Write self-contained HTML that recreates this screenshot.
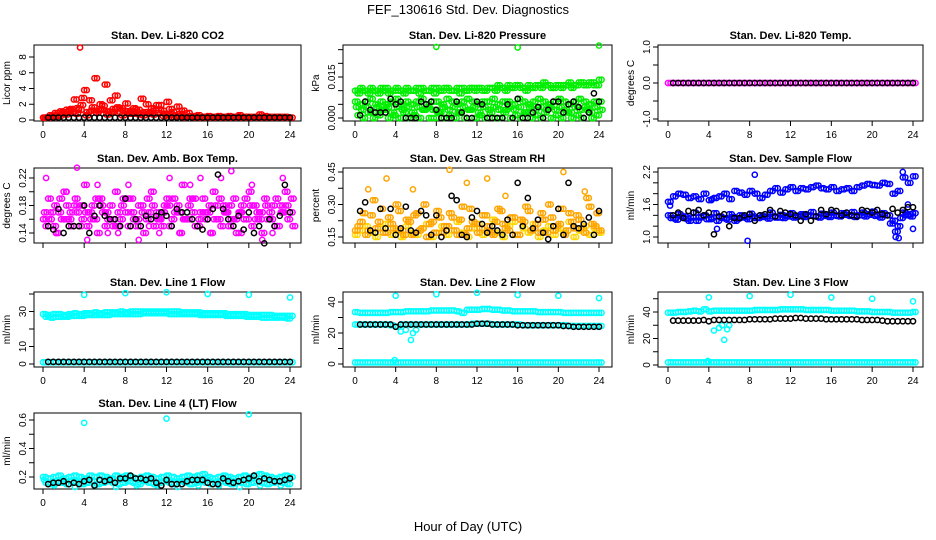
<!DOCTYPE html>
<html><head><meta charset="utf-8"><title>FEF_130616 Std. Dev. Diagnostics</title>
<style>
html,body{margin:0;padding:0;background:#fff;}
svg{display:block;font-family:"Liberation Sans",sans-serif;}
</style></head>
<body>
<svg id="chart" width="936" height="540" viewBox="0 0 936 540" xmlns="http://www.w3.org/2000/svg">
<rect x="0" y="0" width="936" height="540" fill="#fff"/>
<text x="468" y="14" text-anchor="middle" font-size="13">FEF_130616  Std. Dev. Diagnostics</text>
<text x="468" y="531" text-anchor="middle" font-size="13">Hour of Day (UTC)</text>
<g id="panels"></g>
</svg>
<script>
// ---- data ----
const xTicks = [0,4,8,12,16,20,24];
const panelTitles = ["Stan. Dev. Li-820 CO2","Stan. Dev. Li-820 Pressure","Stan. Dev. Li-820 Temp.","Stan. Dev. Amb. Box Temp.","Stan. Dev. Gas Stream RH","Stan. Dev. Sample Flow","Stan. Dev. Line 1 Flow","Stan. Dev. Line 2 Flow","Stan. Dev. Line 3 Flow","Stan. Dev. Line 4 (LT) Flow"];
const yTitles = ["Licor ppm","kPa","degrees C","degrees C","percent","ml/min","ml/min","ml/min","ml/min","ml/min"];
const yTickVals = [[0,2,4,6,8],[0,0.005,0.010,0.015,0.020,0.025],[-1,-0.5,0,0.5,1],[0.14,0.16,0.18,0.20,0.22],[0.15,0.225,0.30,0.375,0.45],[1.0,1.2,1.4,1.6,1.8,2.0,2.2],[0,10,20,30,40],[0,10,20,30,40],[0,10,20,30,40,50],[0.2,0.3,0.4,0.5,0.6]];
const yTickLabels = [["0","2","4","6","8"],["0.000","","","0.015","",""],["-1.0","","0.0","","1.0"],["0.14","","0.18","","0.22"],["0.15","","0.30","","0.45"],["1.0","","","1.6","","","2.2"],["0","10","","30",""],["0","","20","","40"],["0","","20","","40",""],["0.2","","0.4","","0.6"]];

// CO2
const co2A = [0.3,0.3,0.4,0.5,1.0,1.2,2.6,1.3,3.8,2.5,5.3,2.0,4.5,2.5,3.1,1.5,2.1,1.2,1.0,2.7,2.0,1.5,1.9,1.2,2.3,1.0,1.7,1.2,0.9,0.5,0.6,0.4,0.5,0.4,0.5,0.4,0.5,0.4,0.6,0.4,0.4,0.4,0.7,0.5,0.4,0.4,0.4,0.4,0.3];
const co2B = [0.3,0.4,0.6,0.8,1.3,0.9,1.5,2.8,1.0,1.6,1.2,1.8,1.1,1.4,0.9,1.2,0.8,1.5,0.7,1.0,0.8,1.2,1.9,0.8,1.4,0.6,0.8,0.4,0.5,0.4,0.3,0.4,0.3,0.4,0.3,0.4,0.3,0.4,0.3,0.4,0.3,0.4,0.3,0.4,0.3,0.4,0.3,0.3];
const co2C = [0.3,0.6,0.9,1.1,0.7,1.4,0.8,1.9,0.6,1.2,0.9,1.3,0.7,1.0,1.6,0.6,1.1,0.8,1.3,0.6,1.0,0.7,0.9,0.5,0.6,0.4,0.5,0.3,0.4,0.3,0.3,0.3,0.3,0.3,0.3,0.3,0.3,0.3,0.3,0.3,0.3,0.3,0.3,0.3,0.3,0.3,0.3,0.3];
const co2OutT = [3.6]; const co2OutV = [9.2];
const co2Black = [0.3,0.3,0.3,0.3,0.3,0.3,0.3,0.3,0.3,0.3,0.3,0.3,0.3,0.3,0.3,0.3,0.3,0.3,0.3,0.3,0.3,0.3,0.3,0.3,0.3,0.3,0.3,0.3,0.3,0.3,0.3,0.3,0.3,0.3,0.3,0.3,0.3,0.3,0.3,0.3,0.3,0.3,0.3,0.3,0.3,0.3,0.3,0.3];
// Pressure
const prG1 = [0.010,0.011,0.010,0.011,0.010,0.011,0.011,0.010,0.011,0.010,0.011,0.010,0.011,0.011,0.010,0.011,0.011,0.010,0.011,0.010,0.011,0.011,0.010,0.011,0.011,0.010,0.011,0.011,0.012,0.011,0.012,0.011,0.012,0.011,0.012,0.011,0.012,0.013,0.012,0.011,0.012,0.012,0.013,0.012,0.013,0.012,0.013,0.012,0.014];
const prG2 = [0.009,0.010,0.009,0.010,0.009,0.010,0.009,0.010,0.010,0.009,0.010,0.010,0.009,0.010,0.010,0.009,0.010,0.011,0.010,0.010,0.009,0.010,0.011,0.010,0.011,0.010,0.011,0.010,0.011,0.010,0.011,0.012,0.011,0.010,0.011,0.012,0.011,0.012,0.011,0.012,0.011,0.012,0.011,0.012,0.013,0.012,0.013,0.012];
const prG3 = [0.006,0.005,0.006,0.007,0.005,0.006,0.005,0.006,0.007,0.005,0.006,0.005,0.006,0.007,0.005,0.006,0.006,0.005,0.007,0.006,0.005,0.006,0.007,0.006,0.005,0.006,0.006,0.007,0.005,0.006,0.006,0.005,0.007,0.006,0.005,0.006,0.007,0.006,0.005,0.006,0.007,0.006,0.005,0.006,0.007,0.006,0.005,0.006,0.006];
const prG4 = [0.001,0.000,0.002,0.000,0.001,0.003,0.000,0.001,0.000,0.002,0.000,0.001,0.000,0.003,0.000,0.000,0.002,0.000,0.001,0.000,0.002,0.000,0.003,0.000,0.001,0.000,0.002,0.000,0.000,0.003,0.000,0.001,0.000,0.002,0.000,0.001,0.000,0.003,0.000,0.001,0.000,0.002,0.000,0.001,0.000,0.003,0.000,0.001];
const prG5 = [0.004,0.003,0.004,0.002,0.004,0.003,0.004,0.002,0.004,0.003,0.004,0.002,0.004,0.003,0.004,0.003,0.002,0.004,0.003,0.004,0.002,0.004,0.003,0.004,0.002,0.004,0.003,0.004,0.003,0.002,0.004,0.003,0.004,0.002,0.004,0.003,0.004,0.002,0.004,0.003,0.004,0.003,0.002,0.004,0.003,0.004,0.002,0.004,0.003];
const prOutT = [8,16,24]; const prOutV = [0.026,0.0258,0.0265];
const prBlack = [0.001,0.006,0.003,0.002,0.002,0.002,0.007,0.005,0.006,0.000,0.000,0.000,0.006,0.005,0.006,0.003,0.000,0.000,0.000,0.006,0.002,0.000,0.000,0.006,0.005,0.000,0.000,0.000,0.000,0.005,0.000,0.007,0.000,0.000,0.002,0.004,0.000,0.003,0.006,0.006,0.002,0.005,0.006,0.004,0.000,0.002,0.009,0.006];
// Li-820 Temp
const tmpM = [0,0,0,0,0,0,0,0,0,0,0,0,0,0,0,0,0,0,0,0,0,0,0,0,0,0,0,0,0,0,0,0,0,0,0,0,0,0,0,0,0,0,0,0,0,0,0,0,0];
const tmpBlack = [0,0,0,0,0,0,0,0,0,0,0,0,0,0,0,0,0,0,0,0,0,0,0,0,0,0,0,0,0,0,0,0,0,0,0,0,0,0,0,0,0,0,0,0,0,0,0,0];
// Amb box temp
const ambM1 = [0.16,0.19,0.15,0.17,0.20,0.16,0.18,0.15,0.21,0.17,0.16,0.19,0.15,0.18,0.20,0.16,0.17,0.19,0.15,0.18,0.16,0.20,0.17,0.15,0.19,0.16,0.18,0.21,0.16,0.17,0.15,0.19,0.17,0.20,0.16,0.18,0.15,0.19,0.17,0.16,0.20,0.18,0.16,0.19,0.17,0.15,0.18,0.20,0.17];
const ambM2 = [0.15,0.17,0.14,0.16,0.18,0.15,0.17,0.16,0.15,0.18,0.14,0.17,0.16,0.15,0.17,0.19,0.15,0.16,0.18,0.14,0.17,0.15,0.16,0.18,0.15,0.17,0.14,0.16,0.19,0.15,0.17,0.16,0.14,0.18,0.15,0.17,0.16,0.14,0.18,0.16,0.15,0.17,0.14,0.16,0.18,0.15,0.17,0.16,0.15];
const ambM3 = [0.17,0.16,0.18,0.19,0.16,0.17,0.19,0.18,0.17,0.16,0.19,0.18,0.17,0.16,0.15,0.18,0.19,0.17,0.16,0.17,0.19,0.18,0.16,0.17,0.18,0.19,0.17,0.16,0.18,0.19,0.16,0.17,0.18,0.16,0.19,0.17,0.18,0.16,0.17,0.19,0.18,0.16,0.17,0.18,0.16,0.19,0.17,0.18,0.19];
const ambM4 = [0.22,0.14,0.20,0.235,0.13,0.21,0.14,0.14,0.21,0.13,0.15,0.14,0.22,0.14,0.21,0.22,0.14,0.22,0.23,0.14,0.21,0.13,0.14,0.22];
const ambBlack = [0.15,0.145,0.175,0.14,0.15,0.15,0.15,0.18,0.14,0.165,0.18,0.165,0.16,0.16,0.15,0.19,0.15,0.16,0.15,0.165,0.16,0.165,0.17,0.165,0.15,0.175,0.17,0.17,0.16,0.15,0.145,0.16,0.175,0.225,0.175,0.16,0.15,0.165,0.145,0.17,0.14,0.15,0.125,0.16,0.15,0.165,0.21,0.17];
// RH
const rhO1 = [0.18,0.22,0.16,0.25,0.19,0.28,0.17,0.21,0.30,0.18,0.23,0.16,0.26,0.19,0.15,0.22,0.27,0.17,0.20,0.24,0.16,0.29,0.19,0.22,0.17,0.25,0.20,0.16,0.28,0.21,0.18,0.24,0.16,0.22,0.27,0.19,0.17,0.23,0.30,0.18,0.21,0.16,0.26,0.19,0.23,0.17,0.29,0.20,0.18];
const rhO2 = [0.16,0.18,0.20,0.17,0.15,0.19,0.21,0.16,0.18,0.15,0.20,0.17,0.16,0.19,0.21,0.15,0.17,0.20,0.16,0.18,0.22,0.17,0.15,0.19,0.21,0.16,0.18,0.23,0.17,0.15,0.20,0.22,0.16,0.19,0.17,0.21,0.15,0.18,0.20,0.16,0.19,0.17,0.22,0.15,0.18,0.20,0.16,0.19,0.17];
const rhO3 = [0.20,0.26,0.18,0.32,0.22,0.17,0.24,0.19,0.27,0.16,0.22,0.25,0.18,0.30,0.21,0.17,0.24,0.20,0.26,0.18,0.23,0.16,0.28,0.21,0.19,0.25,0.17,0.22,0.27,0.19,0.24,0.16,0.23,0.29,0.18,0.21,0.26,0.17,0.24,0.20,0.28,0.18,0.22,0.25,0.19,0.33,0.21,0.26];
const rhOutT = [1.3,3.1,5.7,9.3,11,13,14.8,20.5,22.6]; const rhOutV = [0.37,0.42,0.37,0.46,0.40,0.42,0.34,0.45,0.36];
const rhBlack = [0.27,0.31,0.18,0.17,0.28,0.19,0.28,0.16,0.19,0.29,0.18,0.17,0.27,0.25,0.16,0.25,0.15,0.18,0.34,0.32,0.16,0.15,0.24,0.27,0.21,0.17,0.20,0.18,0.16,0.23,0.16,0.40,0.20,0.33,0.19,0.23,0.17,0.14,0.20,0.28,0.16,0.40,0.20,0.19,0.21,0.24,0.16,0.27];
// Sample flow
const sfB1 = [1.40,1.35,1.42,1.38,1.30,1.45,1.36,1.40,1.33,1.44,1.38,1.35,1.42,1.30,1.40,1.37,1.43,1.35,1.40,1.38,1.45,1.36,1.41,1.39,1.44,1.37,1.42,1.40,1.46,1.38,1.43,1.40,1.45,1.39,1.44,1.41,1.46,1.40,1.45,1.42,1.47,1.41,1.44,1.40,1.30,1.20,1.45,1.42,1.44];
const sfB2 = [1.35,1.32,1.38,1.34,1.36,1.30,1.38,1.33,1.36,1.30,1.35,1.32,1.37,1.34,1.36,1.33,1.38,1.35,1.37,1.34,1.38,1.36,1.35,1.38,1.36,1.39,1.37,1.40,1.38,1.36,1.39,1.37,1.40,1.38,1.41,1.39,1.37,1.40,1.38,1.41,1.39,1.36,1.40,1.25,1.10,1.35,1.40,1.38];
const sfB3 = [1.65,1.75,1.80,1.78,1.72,1.75,1.70,1.80,1.68,1.72,1.75,1.80,1.70,1.85,1.82,1.78,1.85,1.80,1.72,1.78,1.85,1.90,1.82,1.88,1.92,1.85,1.90,1.88,1.92,1.95,1.90,1.88,1.92,1.85,1.88,1.90,1.85,1.92,1.95,1.98,1.96,1.95,2.00,1.98,1.80,1.85,2.10,2.00,2.12];
const sfOutT = [0.2,8.5,7.8,4.8,22.3,22.6,23.5,23.0,24.0,4.3]; const sfOutV = [1.58,2.15,0.93,1.15,1.0,0.98,1.6,2.2,1.15,1.7];
const sfBlack = [1.4,1.45,1.35,1.48,1.45,1.5,1.4,1.45,1.05,1.38,1.42,1.2,1.35,1.35,1.4,1.42,1.3,1.4,1.42,1.5,1.38,1.48,1.45,1.42,1.4,1.3,1.42,1.3,1.38,1.5,1.42,1.5,1.48,1.4,1.45,1.4,1.38,1.5,1.48,1.45,1.5,1.42,1.4,1.52,1.45,1.5,1.55,1.55];
// Line 1
const l1C1 = [28.5,28,28.5,28.5,28,28.5,29,28.5,29,29,29.5,29,29.5,29.5,29.5,30,29.5,30,30,30,30,30,30,30,30,30,30,29.5,29.5,29.5,29.5,29,29,29,29,29,28.5,28.5,28.5,28.5,28,28,28,28,28,27.5,27.5,27.5,27.5];
const l1C2 = [27,26.5,27,27,27,27.5,27.5,27.5,28,28,28,28,28,28.5,28.5,28.5,28.5,28.5,28.5,29,29,29,29,29,28.5,28.5,28.5,28.5,28.5,28.5,28,28,28,28,28,27.5,27.5,27.5,27.5,27,27,27,26.5,26.5,26.5,26.5,26.5,26];
const l1Low = [1,1,1,1,1,1,1,1,1,1,1,1,1,1,1,1,1,1,1,1,1,1,1,1,1,1,1,1,1,1,1,1,1,1,1,1,1,1,1,1,1,1,1,1,1,1,1,1,1];
const l1OutT = [4,8,12,16,20,24]; const l1OutV = [39.5,40.5,41,40,39.5,38];
const l1Black = [1.2,1.2,1.2,1.2,1.2,1.2,1.2,1.2,1.2,1.2,1.2,1.2,1.2,1.2,1.2,1.2,1.2,1.2,1.2,1.2,1.2,1.2,1.2,1.2,1.2,1.2,1.2,1.2,1.2,1.2,1.2,1.2,1.2,1.2,1.2,1.2,1.2,1.2,1.2,1.2,1.2,1.2,1.2,1.2,1.2,1.2,1.2,1.2];
// Line 2
const l2Up = [33.5,33,33,33,33,33,33,33.5,33.5,33.5,34,34,34,34,34,34.5,34.5,34.5,34.5,34.5,34,33,35,35,35,35.5,35.5,35,35,34.5,34.5,34,34,34,34,34,33.5,33.5,33.5,33.5,33.5,33,33,33,33,33,33,33,33];
const l2Mid = [25.5,25.5,25.5,25.5,25.5,25.5,25.5,25,24,25.5,25.5,25.5,25.5,25.5,25.5,25.5,25.5,25.5,25.5,25.5,25.5,25.5,25.5,26,26,26,26,25.5,25.5,25.5,25.5,25.5,25.5,25,25,25,25,25,25,25,25,25,24.5,24.5,24.5,24.5,24.5,24.5,24.5];
const l2Low = [1,1,1,1,1,1,1,1,1,1,1,1,1,1,1,1,1,1,1,1,1,1,1,1,1,1,1,1,1,1,1,1,1,1,1,1,1,1,1,1,1,1,1,1,1,1,1,1,1];
const l2OutT = [4,8,12,16,20,24,4.5,5,5.5,5.7,6,3.9]; const l2OutV = [44,45,46,44.5,44,42.5,21,22,15.5,20,22,2.5];
const l2Black = [25.5,25.5,25.5,25.5,25.5,25.5,25.5,24,25.5,25.5,25.5,25.5,25.5,25.5,25.5,25.5,25.5,25.5,25.5,25.5,25.5,25.5,25.5,26,26,26,25.5,25.5,25.5,25.5,25.5,25,25,25,25,25,25,25,25,25,24.5,24.5,24,24,24,24,24,24];
// Line 3
const l3Up = [39.5,39.5,40,40,40.5,41,40.5,42,40.5,41,41,41,41,41,41,41,41,41.5,41.5,41.5,41.5,41.5,42,42,42,42,42,41.5,41.5,41.5,41.5,41.5,41,41,41,41,41,40.5,40.5,40.5,40,40,40,40,39.5,39.5,39.5,39.5,40];
const l3Low = [2,2,2,2,2,2,2,2,2,2,2,2,2,2,2,2,2,2,2,2,2,2,2,2,2,2,2,2,2,2,2,2,2,2,2,2,2,2,2,2,2,2,2,2,2,2,2,2,2];
const l3OutT = [4,8,12,16,20,24,4.5,5,5.3,5.5,5.8,6,3.9]; const l3OutV = [51,52,53,51,50,48,26,28,30,19,27,30,3];
const l3Black = [33.5,33.5,33.5,33.5,33.5,33.5,34,33,34,34,34,34,34,34,34,34.5,34.5,34.5,34.5,34.5,35,35,35,35,35.5,35.5,35,35,35,35,34.5,34.5,34.5,34.5,34.5,34.5,34.5,34,34,34,34,33.5,33,33,33,33,33,33];
// Line 4
const l4C1 = [0.20,0.19,0.20,0.21,0.19,0.20,0.21,0.20,0.19,0.21,0.20,0.21,0.20,0.19,0.21,0.20,0.21,0.20,0.19,0.20,0.21,0.20,0.19,0.20,0.21,0.20,0.19,0.20,0.21,0.20,0.21,0.22,0.20,0.19,0.20,0.21,0.20,0.19,0.20,0.21,0.20,0.21,0.22,0.21,0.20,0.19,0.20,0.21,0.20];
const l4C2 = [0.16,0.15,0.17,0.16,0.15,0.17,0.16,0.15,0.16,0.17,0.15,0.16,0.17,0.16,0.15,0.16,0.17,0.16,0.15,0.17,0.16,0.15,0.16,0.17,0.16,0.15,0.17,0.16,0.15,0.16,0.17,0.16,0.15,0.16,0.17,0.16,0.15,0.17,0.16,0.15,0.16,0.17,0.16,0.15,0.16,0.17,0.16,0.15];
const l4C3 = [0.18,0.14,0.18,0.13,0.18,0.14,0.18,0.13,0.18,0.14,0.18,0.14,0.18,0.13,0.18,0.14,0.18,0.14,0.18,0.13,0.18,0.14,0.18,0.14];
const l4OutT = [4,12,20]; const l4OutV = [0.58,0.61,0.64];
const l4Black = [0.15,0.16,0.16,0.17,0.15,0.16,0.15,0.17,0.18,0.14,0.18,0.17,0.18,0.16,0.19,0.19,0.21,0.19,0.19,0.18,0.19,0.16,0.14,0.18,0.15,0.15,0.15,0.17,0.18,0.18,0.18,0.16,0.15,0.15,0.19,0.17,0.16,0.17,0.18,0.19,0.21,0.17,0.19,0.18,0.17,0.17,0.18,0.19];

// ---- layout (pixel geometry, not data) ----
const cols = [{l:34,r:301,x0:43,x24:290},{l:343,r:612,x0:355,x24:599},{l:658,r:923,x0:668,x24:913}];
const rows = [{t:45,b:121},{t:168,b:243},{t:292,b:367},{t:413,b:489}];
const yCal = [[0,120,8,57],[0,118,0.015,77],[-1,119,1,47],[0.14,233,0.22,178],[0.15,237,0.45,172],[1.0,237,2.2,172],[0,364,30,311.5],[0,364,40,302],[0,365,40,312],[0.2,477,0.6,420]];
const NS = "http://www.w3.org/2000/svg";
const root = document.getElementById('panels');
function mk(tag, attrs, parent){const e=document.createElementNS(NS,tag);for(const k in attrs)e.setAttribute(k,attrs[k]);(parent||root).appendChild(e);return e;}
function geom(p){const c=cols[p%3], r=rows[Math.floor(p/3)];return {c:c,r:r};}
function xScale(p,h){const c=geom(p).c;return c.x0+(c.x24-c.x0)*h/24;}
function yScale(p,v){const k=yCal[p];return k[1]+(v-k[0])*(k[3]-k[1])/(k[2]-k[0]);}

function drawPanel(p){
  const {c,r}=geom(p);
  const g=mk('g',{});
  
  
  const box=mk('rect',{x:c.l,y:r.t,width:c.r-c.l,height:r.b-r.t,fill:'none',stroke:'#000','stroke-width':1},g);
  
  
  const tt=mk('text',{x:(c.l+c.r)/2,y:r.t-6,'text-anchor':'middle','font-size':11,'font-weight':'bold'},g);
  tt.textContent=panelTitles[p];
  
  
  const yt=mk('text',{transform:'translate('+(c.l-24)+','+((r.t+r.b)/2)+') rotate(-90)','text-anchor':'middle','font-size':10},g);
  yt.textContent=yTitles[p];
  
  
  const xa=mk('g',{},g);
  
  
  mk('line',{x1:xScale(p,0),x2:xScale(p,24),y1:r.b,y2:r.b,stroke:'#000'},xa);
  const showLabels = !(p>=3 && p<=5);
  xTicks.forEach(h=>{
    const x=xScale(p,h);
    mk('line',{x1:x,x2:x,y1:r.b,y2:r.b+5,stroke:'#000'},xa);
    if(showLabels){
      const t=mk('text',{x:x,y:r.b+17,'text-anchor':'middle','font-size':10},xa);
      t.textContent=String(h);
      
      
    }
  });
  const ya=mk('g',{},g);
  
  
  yTickVals[p].forEach((v,i)=>{
    const y=yScale(p,v);
    mk('line',{x1:c.l-5,x2:c.l,y1:y,y2:y,stroke:'#000'},ya);
    const lab=yTickLabels[p][i];
    if(lab){
      const t=mk('text',{transform:'translate('+(c.l-8)+','+y+') rotate(-90)','text-anchor':'middle','font-size':10},ya);
      t.textContent=lab;
      
      
    }
  });
  return g;
}
const panelGroups=[];
for(let p=0;p<10;p++) panelGroups.push(drawPanel(p));

// dense: also draw each reading's marker a quarter-step later (marker spread for the dense record)
function pts(p,t0,step,vals,color,name,dense){
  const g=mk('g',{fill:'none',stroke:color,'stroke-width':1.5},panelGroups[p]);
  
  
  vals.forEach((v,i)=>{
    const c=mk('circle',{cx:xScale(p,t0+i*step),cy:yScale(p,v),r:2.6},g);
    
    
    if(dense){
      const d=mk('circle',{cx:xScale(p,t0+i*step+step*0.5),cy:yScale(p,v),r:2.6},g);
      
      
    }
  });
}
function ptsXY(p,ts,vals,color,name){
  const g=mk('g',{fill:'none',stroke:color,'stroke-width':1.5},panelGroups[p]);
  
  
  vals.forEach((v,i)=>{
    const c=mk('circle',{cx:xScale(p,ts[i]),cy:yScale(p,v),r:2.6},g);
    
    
  });
}
const RED='#ff0000',GRN='#00ee00',MAG='#ff00ff',ORG='#ffa500',YEL='#ffd700',BLU='#0000ff',CYN='#00ffff',BLK='#000';
// CO2
pts(0,0,0.5,co2A,RED,'co2-series',true);pts(0,0.25,0.5,co2B,RED,'co2-series',true);pts(0,0.15,0.5,co2C,RED,'co2-series',true);ptsXY(0,co2OutT,co2OutV,RED,'co2-outliers');pts(0,0.5,0.5,co2Black,BLK,'co2-reference');
// Pressure
pts(1,0,0.5,prG1,GRN,'pressure-series',true);pts(1,0.25,0.5,prG2,GRN,'pressure-series',true);pts(1,0,0.5,prG3,GRN,'pressure-series',true);pts(1,0.25,0.5,prG4,GRN,'pressure-series',true);pts(1,0.1,0.5,prG5,GRN,'pressure-series',true);ptsXY(1,prOutT,prOutV,GRN,'pressure-outliers');pts(1,0.5,0.5,prBlack,BLK,'pressure-reference');
// Temp
pts(2,0,0.5,tmpM,MAG,'temp-series',true);pts(2,0.5,0.5,tmpBlack,BLK,'temp-reference');
// Amb
pts(3,0,0.5,ambM1,MAG,'amb-series',true);pts(3,0.25,0.5,ambM2,MAG,'amb-series',true);pts(3,0.1,0.5,ambM3,MAG,'amb-series',true);pts(3,0.3,1,ambM4,MAG,'amb-series');pts(3,0.5,0.5,ambBlack,BLK,'amb-reference');
// RH
pts(4,0,0.5,rhO2,YEL,'rh-series',true);pts(4,0,0.5,rhO1,ORG,'rh-series',true);pts(4,0.25,0.5,rhO3,ORG,'rh-series',true);ptsXY(4,rhOutT,rhOutV,ORG,'rh-outliers');pts(4,0.5,0.5,rhBlack,BLK,'rh-reference');
// Sample flow
pts(5,0,0.5,sfB1,BLU,'sample-flow-series',true);pts(5,0.25,0.5,sfB2,BLU,'sample-flow-series',true);pts(5,0,0.5,sfB3,BLU,'sample-flow-series',true);ptsXY(5,sfOutT,sfOutV,BLU,'sample-flow-outliers');pts(5,0.5,0.5,sfBlack,BLK,'sample-flow-reference');
// Line 1
pts(6,0,0.5,l1C1,CYN,'line1-series',true);pts(6,0.25,0.5,l1C2,CYN,'line1-series',true);pts(6,0,0.5,l1Low,CYN,'line1-series',true);ptsXY(6,l1OutT,l1OutV,CYN,'line1-outliers');pts(6,0.5,0.5,l1Black,BLK,'line1-reference');
// Line 2
pts(7,0,0.5,l2Up,CYN,'line2-series',true);pts(7,0,0.5,l2Mid,CYN,'line2-series',true);pts(7,0,0.5,l2Low,CYN,'line2-series',true);ptsXY(7,l2OutT,l2OutV,CYN,'line2-outliers');pts(7,0.5,0.5,l2Black,BLK,'line2-reference');
// Line 3
pts(8,0,0.5,l3Up,CYN,'line3-series',true);pts(8,0,0.5,l3Low,CYN,'line3-series',true);ptsXY(8,l3OutT,l3OutV,CYN,'line3-outliers');pts(8,0.5,0.5,l3Black,BLK,'line3-reference');
// Line 4
pts(9,0,0.5,l4C1,CYN,'line4-series',true);pts(9,0.25,0.5,l4C2,CYN,'line4-series',true);pts(9,0.1,1,l4C3,CYN,'line4-series');ptsXY(9,l4OutT,l4OutV,CYN,'line4-outliers');pts(9,0.5,0.5,l4Black,BLK,'line4-reference');
</script>
</body></html>
